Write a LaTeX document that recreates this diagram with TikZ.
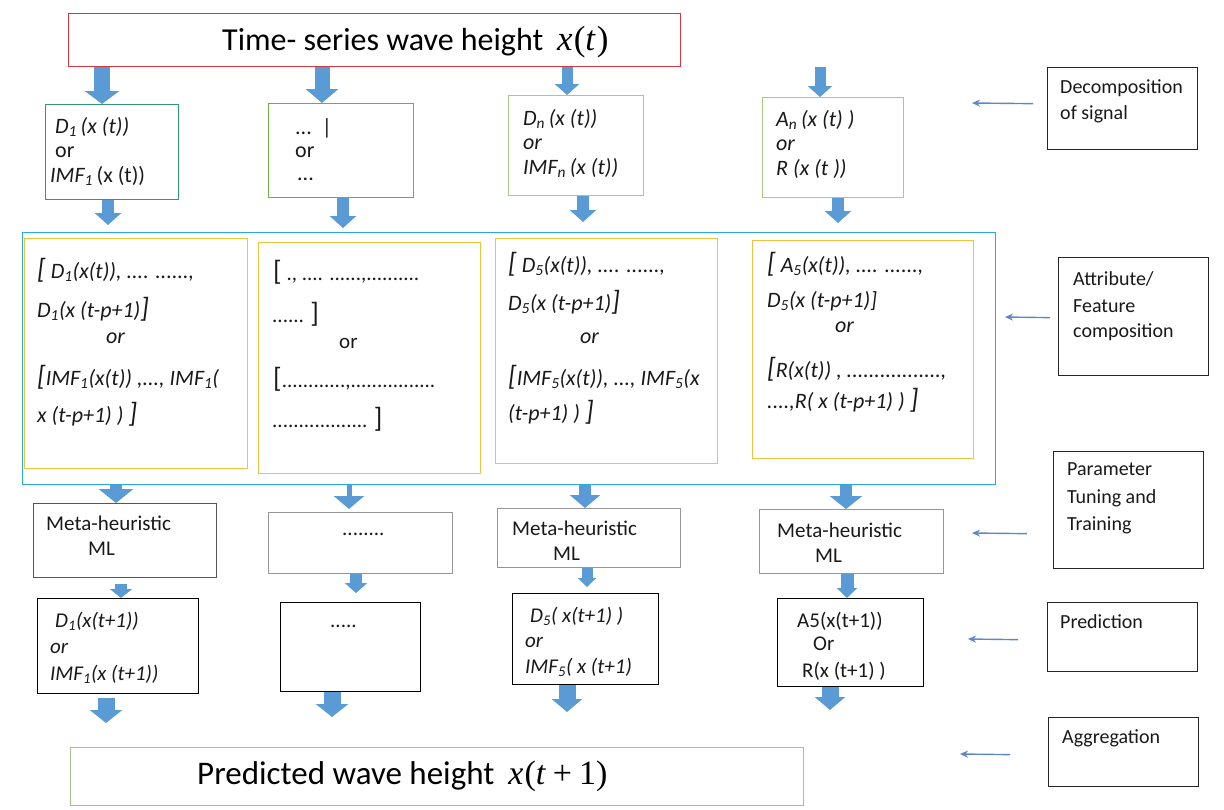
\documentclass[tikz,border=0pt]{standalone}
\usepackage{fontspec}
\setmainfont{Carlito}
\newfontfamily\mfont{Liberation Serif}
\usetikzlibrary{arrows.meta}
\definecolor{fatblue}{RGB}{91,155,213}
\definecolor{thinblue}{RGB}{95,135,195}
\definecolor{topred}{RGB}{215,55,65}
\definecolor{cTeal}{RGB}{50,150,110}
\definecolor{cGreen}{RGB}{112,173,71}
\definecolor{cLgreen}{RGB}{165,205,125}
\definecolor{cCyan}{RGB}{40,170,220}
\definecolor{cGold}{RGB}{245,192,60}
\definecolor{cGrey}{RGB}{150,150,150}
\definecolor{cDgrey}{RGB}{85,85,85}
\definecolor{cOlive}{RGB}{165,195,135}
\newcommand\sub[1]{\textsubscript{#1}}
\newcommand\LB{{\fontsize{28}{28}\selectfont[}}
\newcommand\RB{{\fontsize{28}{28}\selectfont]}}
\newcommand\Bx[6]{\node[bx,#6,minimum width=#4pt,minimum height=#5pt] (#1) at (#2,#3) {};}
\newcommand\Ln[5][]{\node[tx,#1] (#2) at (#3,#4) {#5};}
\newcommand\Lb[4]{\node[lab] (#1) at (#2,#3) {#4};}
\tikzset{
  bx/.style={draw, line width=1.3pt, inner sep=0pt, anchor=north west},
  tx/.style={anchor=base west, inner sep=0pt, font=\fontsize{21}{25}\selectfont, text=black!90},
  big/.style={font=\fontsize{22}{26}\selectfont},
  mid/.style={font=\fontsize{22}{26}\selectfont},
  lab/.style={anchor=base west, inner sep=0pt, font=\fontsize{20}{24}\selectfont, text=black!90},
  fat/.style n args={3}{draw=fatblue, line width=#1, -{Triangle[width=#2,length=#3]}},
  thinarr/.style={draw=thinblue, line width=1.4pt, -{Stealth[length=8pt,width=7pt]}}
}
\begin{document}
\begin{tikzpicture}[x=1pt,y=-1pt]
\useasboundingbox (0,0) rectangle (1224,809);
% top box
\Bx{top}{68}{13}{612}{53}{draw=topred}
\node[anchor=base west, inner sep=0pt, font=\fontsize{32}{38}\selectfont] (title) at (222,50)
  {Time- series wave height\hspace{14pt}{\mfont\fontsize{35}{38}\selectfont\textit{x}\kern1pt(\textit{t}\kern1pt)}};
% decomposition boxes
\Bx{d1}{45}{104}{133}{95}{draw=cTeal}
\Bx{d2}{268}{103}{145}{94}{draw=cGreen}
\Bx{d3}{508}{95}{135}{100}{draw=cLgreen}
\Bx{d4}{762}{97}{141}{100}{draw=cLgreen}
\Ln[big]{d1a}{55}{133}{\itshape D\sub{1}\,(x (t))}
\Ln[big]{d1b}{55}{157.5}{or}
\Ln[big]{d1c}{50}{182}{\textit{IMF\sub{1}}\,(x (t))}
\Ln[big]{d2a}{295}{134}{...\ \ |}
\Ln[big]{d2b}{295}{157}{or}
\Ln[big]{d2c}{297}{180}{...}
\Ln[big]{d3a}{523}{125}{\itshape D\sub{n}\,(x (t))}
\Ln[big]{d3b}{523}{149.5}{\itshape or}
\Ln[big]{d3c}{523}{174}{\itshape IMF\sub{n}\,(x (t))}
\Ln[big]{d4a}{776}{126}{\itshape A\sub{n}\,(x (t) )}
\Ln[big]{d4b}{776}{150.5}{\itshape or}
\Ln[big]{d4c}{776}{175}{\itshape R (x (t ))}
% container and feature boxes
\Bx{cont}{22}{232}{973}{252}{draw=cCyan}
\Bx{y1}{24}{238}{223}{230}{draw=cGold}
\Bx{y2}{258}{242}{222}{231}{draw=cGold}
\Bx{y3}{495}{238}{222}{225}{draw=cGold}
\Bx{y4}{752}{240}{221}{218}{draw=cGold}
\Ln[mid]{y1a}{37}{278}{\itshape \LB\ D\sub{1}(x(t)), .... ......,}
\Ln[mid]{y1b}{37}{317}{\itshape D\sub{1}(x (t-p+1)\RB}
\Ln[mid]{y1c}{106}{343}{\itshape or}
\Ln[mid]{y1d}{37}{385}{\itshape \LB IMF\sub{1}(x(t)) ,..., IMF\sub{1}(}
\Ln[mid]{y1e}{37}{422}{\itshape x (t-p+1) ) \RB}
\Ln[mid]{y3a}{508}{272}{\itshape \LB\ D\sub{5}(x(t)), .... ......,}
\Ln[mid]{y3b}{508}{310}{\itshape D\sub{5}(x (t-p+1)\RB}
\Ln[mid]{y3c}{580}{343}{\itshape or}
\Ln[mid]{y3d}{508}{385}{\itshape \LB IMF\sub{5}(x(t)), ..., IMF\sub{5}(x}
\Ln[mid]{y3e}{508}{420}{\itshape (t-p+1) ) \RB}
\Ln[mid]{y4a}{767}{272}{\itshape \LB\ A\sub{5}(x(t)), .... ......,}
\Ln[mid]{y4b}{767}{307}{\itshape D\sub{5}(x (t-p+1)]}
\Ln[mid]{y4c}{835}{332}{\itshape or}
\Ln[mid]{y4d}{767}{377}{\itshape \LB R(x(t)) , .................,}
\Ln[mid]{y4e}{767}{408}{\itshape ....,R( x (t-p+1) ) \RB}
\Ln{y2a}{273}{280}{\LB\ ., .... ......,..........}
\Ln{y2b}{272}{322}{...... \RB}
\Ln{y2c}{339}{348}{or}
\Ln{y2d}{273}{387}{\LB............,................}
\Ln{y2e}{272}{427}{.................. \RB}
% meta-heuristic boxes
\Bx{m1}{33}{503}{183}{74}{draw=cDgrey}
\Bx{m2}{268}{512}{184}{61}{draw=cGrey}
\Bx{m3}{497}{508}{183}{59}{draw=cGrey}
\Bx{m4}{759}{509}{184}{64}{draw=cGrey}
\Ln{m1a}{46}{530}{Meta-heuristic}
\Ln{m1b}{88}{555}{ML}
\Ln{m2a}{342}{535}{........}
\Ln{m3a}{512}{535}{Meta-heuristic}
\Ln{m3b}{553}{560}{ML}
\Ln{m4a}{777}{537}{Meta-heuristic}
\Ln{m4b}{815}{562}{ML}
% prediction boxes
\Bx{p1}{37}{598}{161}{95}{draw=black}
\Bx{p2}{280}{602}{140}{89}{draw=black}
\Bx{p3}{512}{593}{146}{91}{draw=black}
\Bx{p4}{777}{598}{146}{88}{draw=black}
\Ln{p1a}{55}{627}{\itshape D\sub{1}(x(t+1))}
\Ln{p1b}{50}{653}{\itshape or}
\Ln{p1c}{50}{680}{\itshape IMF\sub{1}(x (t+1))}
\Ln{p2a}{330}{627}{.....}
\Ln{p3a}{530}{622}{\itshape D\sub{5}( x(t+1) )}
\Ln{p3b}{525}{647}{\itshape or}
\Ln{p3c}{525}{673}{\itshape IMF\sub{5}( x (t+1)}
\Ln{p4a}{797}{627}{A5(x(t+1))}
\Ln{p4b}{813}{650}{Or}
\Ln{p4c}{802}{677}{R(x (t+1) )}
% bottom box
\Bx{bot}{70}{747}{733}{58}{draw=cOlive}
\node[anchor=base west, inner sep=0pt, font=\fontsize{33}{40}\selectfont] (btxt) at (197,784)
  {Predicted wave height\hspace{14pt}{\mfont\fontsize{34}{40}\selectfont\textit{x}\kern1pt(\textit{t}\hspace{7pt}+\hspace{7pt}1)}};
% right labels
\Bx{l1}{1047}{67}{150}{82}{draw=black!85}
\Bx{l2}{1058}{257}{150}{118}{draw=black!85}
\Bx{l3}{1053}{451}{150}{117}{draw=black!85}
\Bx{l4}{1047}{602}{150}{69}{draw=black!85}
\Bx{l5}{1048}{717}{150}{69}{draw=black!85}
\Lb{l1a}{1060}{93}{Decomposition}
\Lb{l1b}{1060}{119}{of signal}
\Lb{l2a}{1073}{285}{Attribute/}
\Lb{l2b}{1073}{312}{Feature}
\Lb{l2c}{1073}{337}{composition}
\Lb{l3a}{1067}{475}{Parameter}
\Lb{l3b}{1067}{503}{Tuning and}
\Lb{l3c}{1067}{530}{Training}
\Lb{l4a}{1060}{628}{Prediction}
\Lb{l5a}{1062}{743}{Aggregation}
\coordinate (c1) at (972,103);
\coordinate (c2) at (1005,317);
\coordinate (c3) at (972,533);
\coordinate (c4) at (968,639);
\coordinate (c5) at (960,754);
\draw[thinarr] ([xshift=-14pt,yshift=5pt]l1.west) -- (c1);
\draw[thinarr] ([xshift=-8pt,yshift=-1pt]l2.west) -- (c2);
\draw[thinarr] ([xshift=-26pt,yshift=-23.5pt]l3.west) -- (c3);
\draw[thinarr] ([xshift=-29pt,yshift=-2.5pt]l4.west) -- (c4);
\draw[thinarr] ([xshift=-38pt,yshift=-2.5pt]l5.west) -- (c5);
% fat arrows: top -> decomposition
\draw[fat={16pt}{34pt}{13pt}] (102,0 |- top.south) -- (102,0 |- d1.north);
\draw[fat={15pt}{32pt}{14pt}] (322,0 |- top.south) -- (322,0 |- d2.north);
\draw[fat={11pt}{24pt}{11pt}] (567,0 |- top.south) -- (567,0 |- d3.north);
\draw[fat={11pt}{24pt}{11pt}] (820,0 |- top.south) -- (820,0 |- d4.north);
% decomposition -> container
\draw[fat={12pt}{26pt}{12pt}, shorten >=7pt] (108,0 |- d1.south) -- (108,0 |- cont.north);
\draw[fat={12pt}{26pt}{12pt}, shorten >=4pt] (343,0 |- d2.south) -- (343,0 |- cont.north);
\draw[fat={12pt}{26pt}{12pt}, shorten >=10pt] (583,0 |- d3.south) -- (583,0 |- cont.north);
\draw[fat={12pt}{26pt}{12pt}, shorten >=9pt] (838,0 |- d4.south) -- (838,0 |- cont.north);
% container -> meta
\draw[fat={12pt}{34pt}{14pt}] (116,0 |- cont.south) -- (116,0 |- m1.north);
\draw[fat={5pt}{30pt}{13pt}, shorten >=3pt] (349,0 |- cont.south) -- (349,0 |- m2.north);
\draw[fat={12pt}{30pt}{13pt}] (585,0 |- cont.south) -- (585,0 |- m3.north);
\draw[fat={12pt}{32pt}{13pt}] (846,0 |- cont.south) -- (846,0 |- m4.north);
% meta -> prediction
\draw[fat={12pt}{22pt}{9pt}, shorten <=6pt] (121,0 |- m1.south) -- (121,0 |- p1.north);
\draw[fat={12pt}{22pt}{10pt}, shorten >=9pt] (356,0 |- m2.south) -- (356,0 |- p2.north);
\draw[fat={11pt}{18pt}{9pt}, shorten >=6pt] (587,0 |- m3.south) -- (587,0 |- p3.north);
\draw[fat={13pt}{20pt}{10pt}] (847,0 |- m4.south) -- (847,0 |- p4.north);
% prediction -> bottom
\draw[fat={17pt}{32pt}{13pt}, shorten <=4pt, shorten >=24pt] (106,0 |- p1.south) -- (106,0 |- bot.north);
\draw[fat={17pt}{32pt}{13pt}, shorten >=30pt] (332,0 |- p2.south) -- (332,0 |- bot.north);
\draw[fat={17pt}{30pt}{13pt}, shorten >=35pt] (567,0 |- p3.south) -- (567,0 |- bot.north);
\draw[fat={17pt}{30pt}{13pt}, shorten >=37pt] (830,0 |- p4.south) -- (830,0 |- bot.north);
\end{tikzpicture}
\end{document}
